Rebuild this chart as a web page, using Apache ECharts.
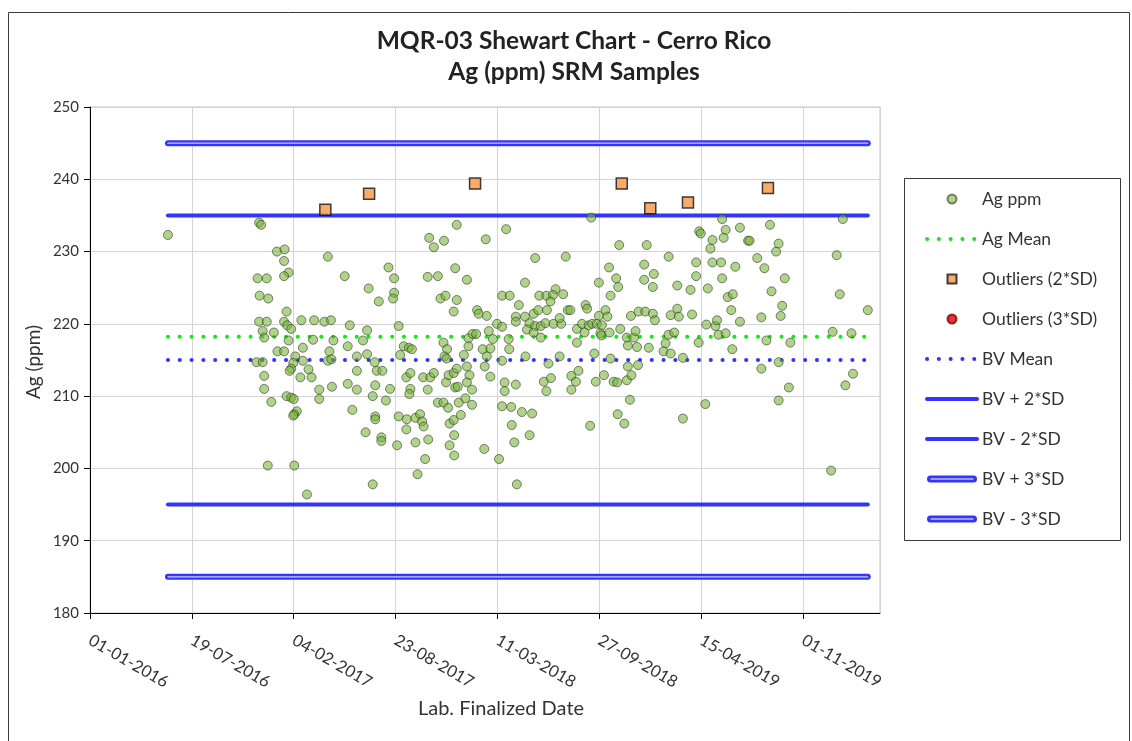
<!DOCTYPE html>
<html>
<head>
<meta charset="utf-8">
<title>MQR-03 Shewart Chart - Cerro Rico</title>
<script src="https://cdn.jsdelivr.net/npm/echarts@6/dist/echarts.min.js"></script>
<style>
  html, body { margin: 0; padding: 0; background: #ffffff; }
  #chart { width: 1132px; height: 741px; }
</style>
</head>
<body>
<div id="chart"></div>
<script>
// Dates are stored as days counted from 1 January 2016.
const START_DATE = Date.UTC(2016, 0, 1);
const DAY_MS = 86400000;

// Ag (ppm) results for the SRM: [day, ppm]
const agSamples = [
  [153,232.3],[332,234.0],[336,233.7],[367,230.0],[382,230.3],[381,228.7],[467,229.3],[390,227.1],[381,226.6],[329,226.3],
  [347,226.3],[333,223.9],[350,223.5],[386,221.7],[332,220.3],[347,220.3],[381,220.3],[387,219.8],[395,219.3],[415,220.5],
  [440,220.5],[460,220.3],[473,220.5],[339,219.0],[342,218.1],[361,218.8],[390,217.7],[438,217.8],[478,217.7],[418,216.7],
  [368,216.2],[381,216.2],[470,216.2],[403,215.5],[399,214.6],[395,213.8],[392,213.5],[418,214.9],[327,214.7],[339,214.7],
  [467,214.9],[474,215.1],[429,213.7],[413,212.6],[435,212.6],[342,212.8],[342,211.0],[475,211.3],[450,210.9],[450,209.6],
  [356,209.2],[386,210.0],[395,209.8],[400,209.6],[406,207.9],[401,207.5],[399,207.3],[349,200.4],[401,200.4],[426,196.4],

  [720,233.7],[666,231.9],[695,231.5],[675,230.6],[777,231.7],[817,233.1],[586,227.8],[500,226.6],[597,226.3],[663,226.5],
  [683,226.6],[717,227.7],[740,226.1],[547,224.9],[567,223.1],[597,224.3],[595,223.5],[688,223.5],[698,223.9],[720,223.3],
  [714,221.7],[760,221.9],[763,221.4],[779,221.1],[809,223.9],[824,223.9],[842,222.6],[836,221.0],[836,220.3],[799,220.0],
  [809,219.6],[510,219.8],[606,219.7],[544,219.1],[536,217.7],[506,216.9],[616,216.9],[626,216.7],[632,216.5],[609,215.7],
  [524,215.5],[544,215.8],[694,217.4],[701,216.5],[696,215.5],[700,215.2],[743,218.0],[751,218.6],[758,218.6],[743,216.9],
  [734,215.7],[771,216.5],[786,216.6],[779,215.5],[791,217.9],[822,217.9],[823,216.5],[783,219.0],[809,214.9],[775,214.1],
  [559,214.7],[563,213.5],[574,213.5],[524,213.5],[506,211.7],[524,210.9],[560,211.5],[555,210.0],[589,211.0],[581,209.4],
  [621,212.6],[629,213.2],[654,212.6],[668,212.6],[675,213.2],[629,211.0],[627,210.3],[663,210.9],[699,211.9],[704,212.9],
  [714,213.2],[720,213.8],[717,211.2],[722,211.3],[740,214.1],[745,212.9],[740,211.9],[750,210.9],[786,212.7],[814,211.9],
  [814,210.7],[836,211.6],[683,209.1],[694,209.1],[703,208.4],[724,209.1],[737,209.7],[750,208.8],[809,208.6],[827,208.5],
  [515,208.1],[560,207.2],[560,206.8],[606,207.2],[622,206.8],[639,207.0],[648,207.5],[652,206.5],[655,205.8],[621,205.4],
  [706,206.2],[714,206.7],[728,207.4],[541,205.0],[572,204.3],[572,203.8],[603,203.2],[639,203.6],[664,204.0],[715,204.6],
  [706,203.2],[715,201.8],[658,201.3],[774,202.7],[803,201.3],[828,206.0],[833,203.6],[643,199.2],[555,197.8],[838,197.8],

  [984,234.7],[1196,232.8],[1039,230.9],[1093,230.9],[874,229.1],[934,229.3],[1136,229.3],[1190,228.5],[1190,226.6],[1019,227.8],
  [1033,226.3],[1037,225.1],[1088,228.2],[1107,226.9],[1088,226.1],[1105,225.1],[999,225.7],[1153,225.3],[1179,224.7],[854,225.7],
  [1022,223.9],[882,223.9],[896,223.9],[914,224.8],[909,224.0],[929,224.1],[904,223.1],[897,221.9],[871,221.4],[880,221.9],
  [854,221.0],[863,220.1],[874,219.7],[885,219.7],[894,220.1],[910,220.0],[925,220.0],[922,220.8],[938,221.9],[943,221.9],
  [858,219.2],[871,218.8],[885,218.1],[973,222.6],[976,222.1],[999,221.1],[1012,221.9],[1016,221.0],[956,219.3],[966,220.0],
  [979,219.8],[986,220.0],[995,220.0],[1005,219.8],[1002,218.7],[1004,218.4],[971,218.8],[956,217.4],[1020,218.8],[1041,219.3],
  [1054,218.1],[1068,218.1],[1071,219.0],[1056,217.0],[1074,216.8],[1062,221.1],[1077,221.7],[1090,221.7],[1105,221.4],[1109,220.5],
  [1140,221.2],[1153,222.1],[1156,221.0],[1182,221.3],[1097,216.7],[1136,218.5],[1147,218.8],[1130,217.3],[1126,216.2],[1140,215.9],
  [1195,217.4],[855,215.5],[922,215.5],[900,214.5],[990,215.9],[1022,215.2],[1056,214.1],[1076,214.3],[1164,215.3],[891,212.0],
  [905,212.5],[896,210.7],[945,212.8],[959,213.5],[954,212.0],[945,210.9],[993,212.0],[1009,212.9],[1028,212.0],[1035,211.9],
  [1054,212.2],[1063,212.9],[1060,209.5],[848,207.8],[868,207.6],[863,204.6],[982,205.9],[1036,207.5],[1049,206.2],[1164,206.9],

  [1241,234.5],[1478,234.5],[1248,233.0],[1276,233.3],[1335,233.7],[1222,231.6],[1244,231.9],[1218,230.4],[1292,231.5],[1295,231.5],
  [1352,231.1],[1347,230.0],[1466,229.5],[1222,228.5],[1239,228.5],[1267,227.9],[1310,229.1],[1324,227.7],[1364,226.3],[1241,226.3],
  [1213,224.9],[1252,223.7],[1262,224.1],[1338,224.5],[1472,224.1],[1259,221.9],[1359,222.5],[1356,221.1],[1318,220.9],[1527,221.9],
  [1210,219.9],[1228,219.7],[1231,220.5],[1276,220.3],[1234,218.5],[1248,218.7],[1328,217.7],[1375,217.4],[1458,218.9],[1495,218.7],
  [1261,216.5],[1352,214.7],[1318,213.8],[1498,213.1],[1483,211.5],[1372,211.2],[1352,209.4],[1208,208.9],[1455,199.7],[1199,232.5]
];

// Results outside the 2*SD band: [day, ppm]
const outliers2SD = [[462,235.8],[548,238.0],[756,239.4],[1044,239.4],[1100,236.0],[1174,236.8],[1331,238.8]];
// Results outside the 3*SD band (none recorded)
const outliers3SD = [];

// Control limits
const BV_MEAN = 215;
const BV_SD = 10;
const AG_MEAN = 218.2;

// Axis ranges
const Y_MIN = 180, Y_MAX = 250, Y_STEP = 10;
const X_MIN_DAY = 0, X_MAX_DAY = 1551, X_STEP_DAYS = 200;

const FONT = 'Lato, "Open Sans", sans-serif';
const TEXT = '#333333';
const BLUE = '#3434ff';

const days = agSamples.map(p => p[0]);
const firstDay = Math.min.apply(null, days);
const lastDay = Math.max.apply(null, days);
const flat = v => [[firstDay, v], [lastDay, v]];

function dayLabel(d) {
  const t = new Date(START_DATE + d * DAY_MS);
  const dd = String(t.getUTCDate()).padStart(2, '0');
  const mm = String(t.getUTCMonth() + 1).padStart(2, '0');
  return dd + '-' + mm + '-' + t.getUTCFullYear();
}

const DOTS = [0.1, 11.7];

function limitLine(name, value, style, z) {
  return {
    name: name, type: 'line', data: flat(value), symbol: 'none', z: z || 2,
    silent: true, animation: false,
    lineStyle: Object.assign({ cap: 'round', join: 'round' }, style),
    itemStyle: { color: style.color }
  };
}

// Legend swatches: double-stroke line (outline with hollow centre) and a small square
const DOUBLE_LINE_ICON = 'path://M3.5,0 L46.5,0 Q50,0 50,3.5 Q50,7 46.5,7 L3.5,7 Q0,7 0,3.5 Q0,0 3.5,0 Z M3.5,3 L3.5,4 L46.5,4 L46.5,3 Z';
const SQUARE_ICON = 'path://M0,0 L10,0 L10,10 L0,10 Z';
// line entries: hide the marker dot that the legend adds to line series
const NO_DOT = { color: 'rgba(0,0,0,0)', borderWidth: 0 };
const LEGEND_LINE = { width: 4, cap: 'round' };

const chart = echarts.init(document.getElementById('chart'), null, { renderer: 'canvas' });

chart.setOption({
  animation: false,
  backgroundColor: '#ffffff',
  textStyle: { fontFamily: FONT, color: TEXT },
  grid: {
    left: 90, right: 252, top: 107, bottom: 128,
    show: true, borderColor: '#c4c4c4', borderWidth: 1, backgroundColor: '#ffffff'
  },
  xAxis: {
    type: 'value', min: X_MIN_DAY, max: X_MAX_DAY, interval: X_STEP_DAYS,
    axisLine: { show: true, onZero: false, lineStyle: { color: '#000', width: 1 } },
    axisTick: { show: true, length: 6, lineStyle: { color: '#000' } },
    splitLine: { show: true, lineStyle: { color: '#d4d4d4', width: 1 } },
    axisLabel: {
      rotate: -30, margin: 26, fontSize: 16.5, color: TEXT, fontFamily: FONT,
      showMaxLabel: false, formatter: dayLabel
    }
  },
  yAxis: {
    type: 'value', min: Y_MIN, max: Y_MAX, interval: Y_STEP,
    axisLine: { show: true, onZero: false, lineStyle: { color: '#000', width: 1 } },
    axisTick: { show: true, length: 6, lineStyle: { color: '#000' } },
    splitLine: { show: true, lineStyle: { color: '#d4d4d4', width: 1 } },
    axisLabel: { margin: 11, fontSize: 15, color: TEXT, fontFamily: FONT }
  },
  legend: {
    orient: 'vertical', left: 925, top: 189, padding: 0,
    itemWidth: 50, itemHeight: 9, itemGap: 20,
    selectedMode: false,
    textStyle: { fontFamily: FONT, fontSize: 17.5, color: TEXT, lineHeight: 20 },
    data: [
      { name: 'Ag ppm' },
      { name: 'Ag Mean', itemStyle: NO_DOT, lineStyle: LEGEND_LINE },
      { name: 'Outliers (2*SD)', icon: SQUARE_ICON },
      { name: 'Outliers (3*SD)' },
      { name: 'BV Mean', itemStyle: NO_DOT, lineStyle: LEGEND_LINE },
      { name: 'BV + 2*SD', itemStyle: NO_DOT, lineStyle: LEGEND_LINE },
      { name: 'BV - 2*SD', itemStyle: NO_DOT, lineStyle: LEGEND_LINE },
      { name: 'BV + 3*SD', icon: DOUBLE_LINE_ICON, itemStyle: { color: BLUE, borderWidth: 0 } },
      { name: 'BV - 3*SD', icon: DOUBLE_LINE_ICON, itemStyle: { color: BLUE, borderWidth: 0 } }
    ]
  },
  graphic: [
    { type: 'rect', silent: true, z: -10,
      shape: { x: 8.5, y: 12.5, width: 1121, height: 740 },
      style: { fill: 'none', stroke: '#3a3a3a', lineWidth: 1 } },
    { type: 'rect', silent: true, z: -5,
      shape: { x: 904.5, y: 178.5, width: 216, height: 362 },
      style: { fill: '#ffffff', stroke: '#3a3a3a', lineWidth: 1 } },
    { type: 'text', silent: true, x: 574, y: 41,
      style: { text: 'MQR-03 Shewart Chart - Cerro Rico', font: 'bold 24.5px ' + FONT,
               fill: '#222', textAlign: 'center', textVerticalAlign: 'middle' } },
    { type: 'text', silent: true, x: 574, y: 72,
      style: { text: 'Ag (ppm) SRM Samples', font: 'bold 24.5px ' + FONT,
               fill: '#222', textAlign: 'center', textVerticalAlign: 'middle' } },
    { type: 'text', silent: true, x: 34, y: 362, rotation: Math.PI / 2,
      style: { text: 'Ag (ppm)', font: '19px ' + FONT, fill: TEXT,
               textAlign: 'center', textVerticalAlign: 'middle' } },
    { type: 'text', silent: true, x: 501, y: 709,
      style: { text: 'Lab. Finalized Date', font: '20px ' + FONT, fill: TEXT,
               textAlign: 'center', textVerticalAlign: 'middle' } }
  ],
  series: [
    {
      name: 'Ag ppm', type: 'scatter', data: agSamples, z: 5,
      symbol: 'circle', symbolSize: 9,
      itemStyle: { color: 'rgba(118,178,56,0.72)', borderColor: 'rgba(45,55,30,0.75)', borderWidth: 1 }
    },
    limitLine('Ag Mean', AG_MEAN, { color: '#19e619', width: 4, type: DOTS }),
    {
      name: 'Outliers (2*SD)', type: 'scatter', data: outliers2SD, z: 6,
      symbol: 'rect', symbolSize: 11,
      itemStyle: { color: '#f79646', borderColor: '#111', borderWidth: 1.5 }
    },
    {
      name: 'Outliers (3*SD)', type: 'scatter', data: outliers3SD, z: 6,
      symbol: 'circle', symbolSize: 10,
      itemStyle: { color: '#e00000', borderColor: '#800000', borderWidth: 1 }
    },
    limitLine('BV Mean', BV_MEAN, { color: BLUE, width: 4, type: DOTS }),
    limitLine('BV + 2*SD', BV_MEAN + 2 * BV_SD, { color: BLUE, width: 4 }),
    limitLine('BV - 2*SD', BV_MEAN - 2 * BV_SD, { color: BLUE, width: 4 }),
    limitLine('BV + 3*SD', BV_MEAN + 3 * BV_SD, { color: BLUE, width: 6 }),
    limitLine('BV - 3*SD', BV_MEAN - 3 * BV_SD, { color: BLUE, width: 6 }),
    // light centre stroke of the double 3*SD lines
    limitLine('BV + 3*SD centre', BV_MEAN + 3 * BV_SD, { color: 'rgba(255,255,255,0.75)', width: 1.2 }, 3),
    limitLine('BV - 3*SD centre', BV_MEAN - 3 * BV_SD, { color: 'rgba(255,255,255,0.75)', width: 1.2 }, 3)
  ]
});
</script>
</body>
</html>
